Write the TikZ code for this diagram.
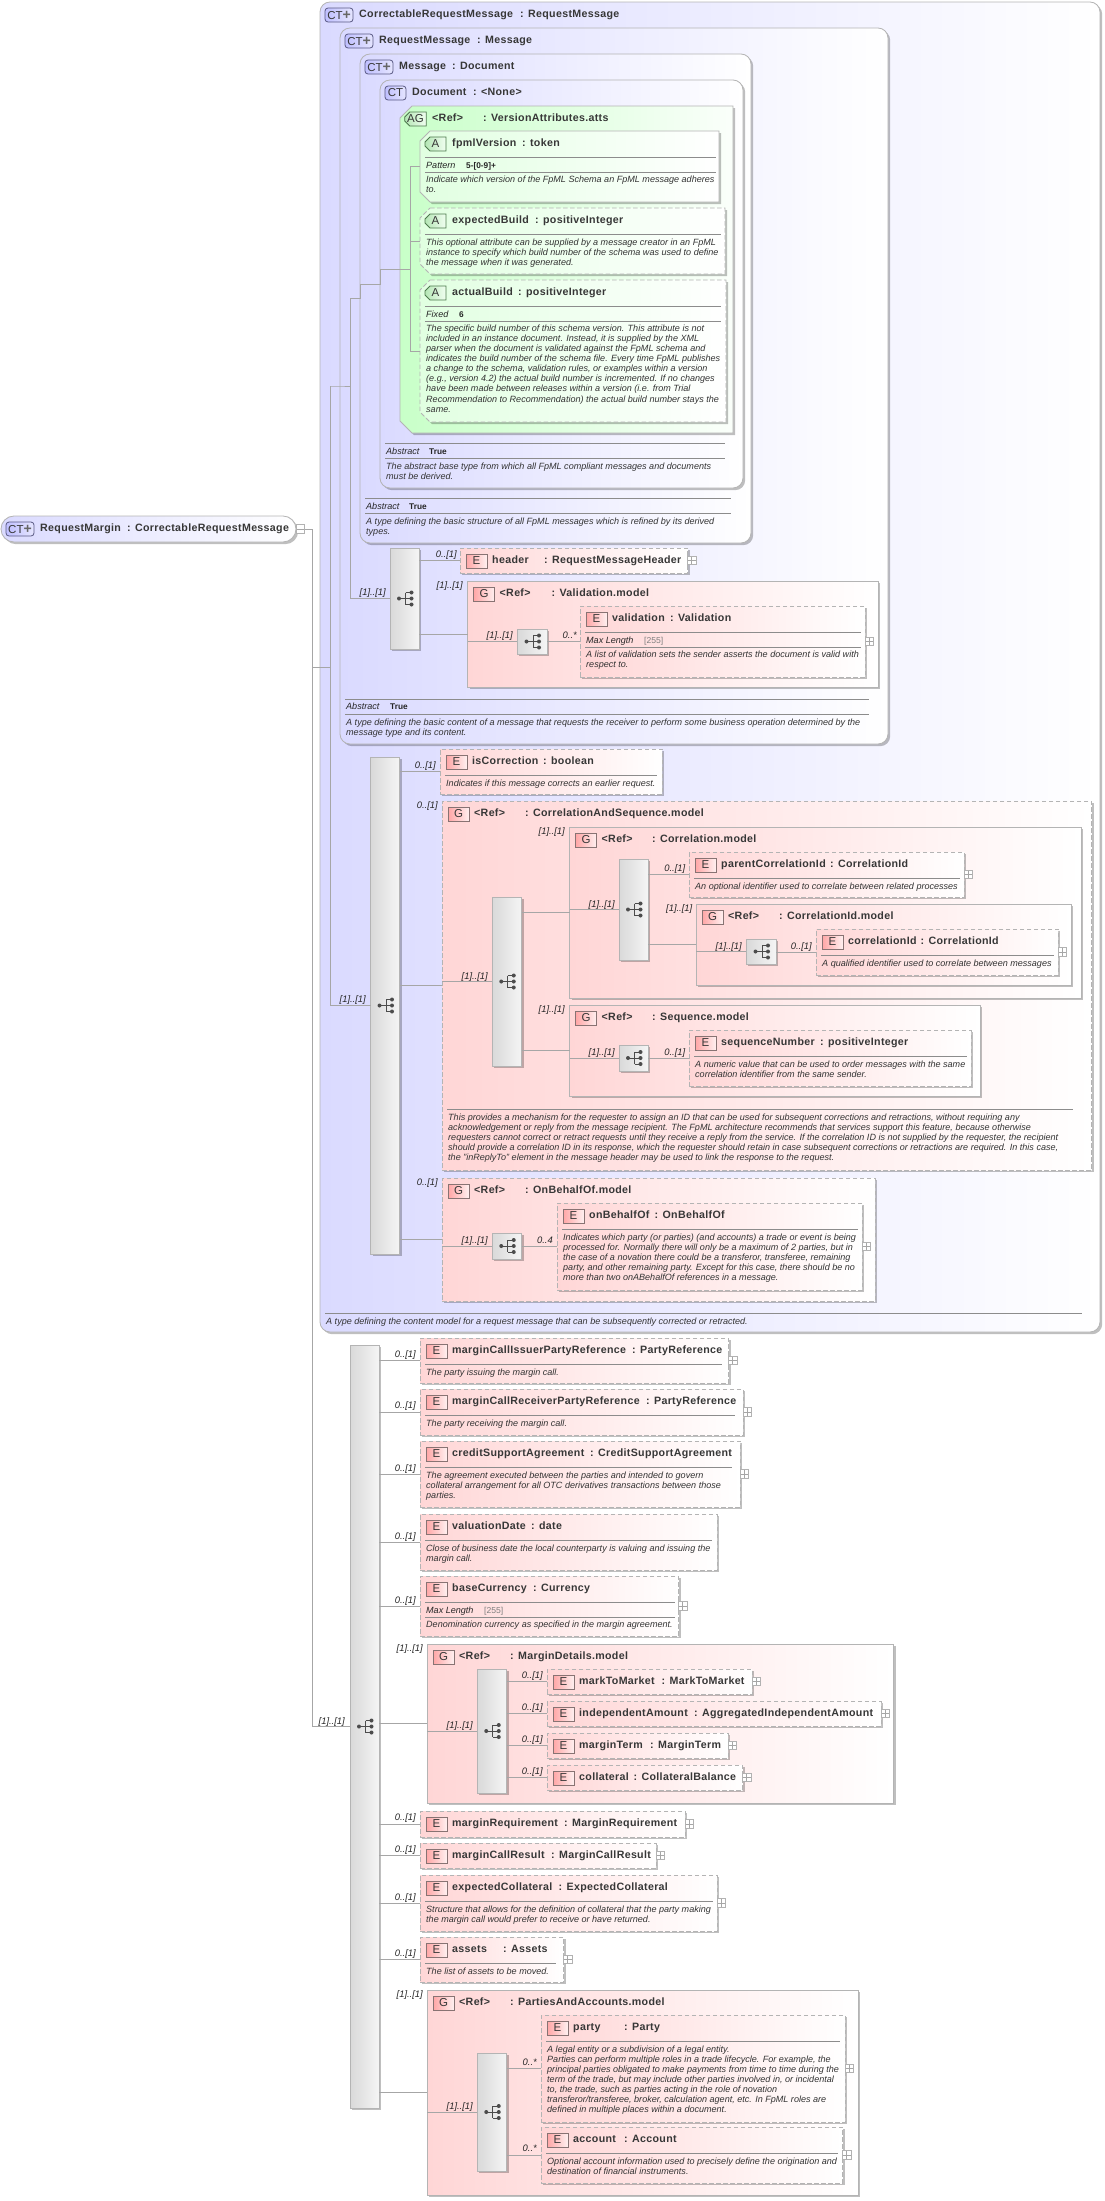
\documentclass[tikz,border=0pt]{standalone}
\usepackage{fontspec}
\setmainfont{Liberation Sans}
\newfontfamily\ttlfont[LetterSpace=3]{Liberation Sans}
\usetikzlibrary{positioning,shadows,shapes.misc}

\definecolor{ctblue}{RGB}{218,218,255}
\definecolor{elpink}{RGB}{255,214,214}
\definecolor{aggreen}{RGB}{200,255,200}
\definecolor{edge}{RGB}{180,180,180}
\definecolor{inkgray}{RGB}{55,55,55}

\tikzset{
  softshadow/.style={drop shadow={shadow xshift=2.2pt,shadow yshift=-2.2pt,fill=black,opacity=.25}},
  plainbox/.style={draw=edge,line width=.85pt,inner sep=0pt,outer sep=0pt,softshadow},
  ctbox/.style={plainbox,rounded corners=10pt,left color=ctblue,right color=white},
  rootbox/.style={ctbox,rounded corners=13pt},
  grpbox/.style={plainbox,left color=elpink,right color=white},
  elbox/.style={plainbox,left color=elpink,right color=white},
  opt/.style={dash pattern=on 4.5pt off 2.5pt},
  chamfer/.style={chamfered rectangle,chamfered rectangle corners={north west,south west},
    chamfered rectangle xsep=#1,chamfered rectangle ysep=#1},
  agbox/.style={plainbox,left color=aggreen,right color=white!92!aggreen},
  attbox/.style={plainbox,left color=aggreen!55,right color=white},
  chamanchor/.style={inner sep=0pt,outer sep=0pt},
  seqbar/.style={plainbox,left color=black!15,right color=white!96!black},
  iconbase/.style={draw=black!60,line width=.8pt,inner sep=0pt,outer sep=0pt,
    minimum width=21pt,minimum height=14pt,text=inkgray,font=\fontsize{11.5}{12}\selectfont},
  icel/.style={iconbase,draw=red!15!black!55,left color=red!35,right color=red!6},
  icct/.style={iconbase,draw=blue!25!black!65,rounded corners=3pt,left color=blue!25,right color=blue!10},
  icctp/.style={icct,minimum width=28pt},
  icat/.style={iconbase,draw=green!25!black!70,chamfer=2.5pt,left color=aggreen!90!black,right color=aggreen!25},
  ttl/.style={anchor=base west,inner sep=0pt,text=inkgray,font=\fontsize{10.65}{12}\ttlfont\bfseries},
  dockey/.style={anchor=base west,inner sep=0pt,text=black!85,font=\fontsize{9.05}{10}\selectfont\itshape},
  kvbold/.style={anchor=base west,inner sep=0pt,text=black!85,font=\fontsize{8.3}{10}\selectfont\bfseries},
  kvgray/.style={anchor=base west,inner sep=0pt,text=black!50,font=\fontsize{8.6}{10}\selectfont},
  doctext/.style={anchor=north west,inner sep=0pt,align=left,text=black!80,
    font=\fontsize{9.05}{10.12}\selectfont\itshape},
  cardtext/.style={anchor=base east,inner sep=0pt,text=black!85,font=\fontsize{9.4}{10}\selectfont\itshape},
  sepline/.style={draw=black!45,line width=.7pt},
  conn/.style={draw=black!35,line width=.8pt},
  expbase/.style={draw=black!30,line width=.6pt,fill=white,inner sep=0pt,outer sep=0pt,minimum size=8.5pt},
  expplus/.style={expbase,path picture={\draw[black!35,line width=.6pt]
    (path picture bounding box.west) -- (path picture bounding box.east)
    (path picture bounding box.north) -- (path picture bounding box.south);}},
  expminus/.style={expbase,path picture={\draw[black!35,line width=.6pt]
    (path picture bounding box.west) -- (path picture bounding box.east);}},
  treeicon/.pic={
    \draw[black!70,line width=.8pt] (-5.5,0) -- (1,0) (1,-6) -- (1,6) (1,-6) -- (7,-6) (1,0) -- (7,0) (1,6) -- (7,6);
    \fill[black!70] (-5.5,0) circle (2) (7,-6) circle (2) (7,0) circle (2) (7,6) circle (2);
  }
}

\newcommand{\boxnode}[6]{%
  \coordinate (#2-o) at (#3,#4);
  \coordinate (#2-r) at (#5,#4);
  \node[#1,minimum width={(#5-#3)*1pt},minimum height={(#6-#4)*1pt}] (#2) at ({(#3+#5)/2},{(#4+#6)/2}) {};
}
\newcommand{\chambox}[7]{%
  \path[#1] ({#3+#7},#4) -- (#5,#4) -- (#5,#6) -- ({#3+#7},#6) -- (#3,{#6-#7}) -- (#3,{#4+#7}) -- cycle;
  \boxnode{chamanchor}{#2}{#3}{#4}{#5}{#6}
}
\newcommand{\head}[7][16.5]{%
  \node[#3] (#2-i) at ([shift={(#1,13)}]#2-o) {#4};
  \node[ttl] (#2-a) at ([shift={(32,15)}]#2-o) {#5};
  \node[ttl] (#2-b) at ([shift={(#6,15)}]#2-o) {#7};
}
\newcommand{\cthead}[4]{%
  \node[icctp] (#1-i) at ([shift={(19,13)}]#1-o) {CT\textcolor{black!60}{\fontsize{14}{12}\selectfont\bfseries +}};
  \node[ttl] (#1-a) at ([shift={(39,15)}]#1-o) {#2};
  \node[ttl] (#1-b) at ([shift={(#3,15)}]#1-o) {#4};
}
\newcommand{\sepl}[3]{\draw[sepline] ([shift={(5,#2)}]#1-o) -- ([shift={(-#3,#2)}]#1-r);}
\newcommand{\docs}[3][34]{\node[doctext] (#2-d) at ([shift={(6,#1-4.5)}]#2-o) {\rule{0pt}{7.5pt}#3};}
\newcommand{\kv}[6][34]{%
  \node[dockey] (#2-k) at ([shift={(6,#1+3)}]#2-o) {#3};
  \node[#5] (#2-v) at ([shift={(#4,#1+3)}]#2-o) {#6};
}
\newcommand{\card}[4]{\node[cardtext] (#1) at (#2,#3+3) {#4};}
\newcommand{\seqnode}[5]{%
  \boxnode{seqbar}{#1}{#2}{#3}{#4}{#5}
  \pic at (#1.center) {treeicon};
}
\newcommand{\expander}[1]{\node[expplus,right=0pt of #1] (#1-x) {};}

\begin{document}
\begin{tikzpicture}[x=1pt,y=-1pt]
  \useasboundingbox (0,0) rectangle (1105,2201);

  % Root element
  \boxnode{rootbox}{rm}{1}{516}{296}{542}
  \cthead{rm}{RequestMargin}{126}{: CorrectableRequestMessage}
  \node[expminus,right=0pt of rm] (rm-x) {};

  % Type hierarchy
  \boxnode{ctbox}{crm}{320}{2}{1100}{1332}
  \cthead{crm}{CorrectableRequestMessage}{200}{: RequestMessage}
  \boxnode{ctbox}{rqm}{340}{28}{888}{744}
  \cthead{rqm}{RequestMessage}{137}{: Message}
  \boxnode{ctbox}{msg}{360}{54}{751}{543}
  \cthead{msg}{Message}{92}{: Document}
  \boxnode{ctbox}{dcm}{380}{80}{743}{488}
  \head[15.5]{dcm}{icct}{CT}{Document}{93}{: <None>}

  % Attributes
  \chambox{agbox}{ver}{400}{106}{733}{433}{12}
  \head[15.5]{ver}{icat}{AG}{<Ref>}{83}{: VersionAttributes.atts}
  \chambox{attbox}{fpml}{420}{131}{719}{202}{10}
  \head[15.5]{fpml}{icat}{A}{fpmlVersion}{102}{: token}
  \sepl{fpml}{26}{3}
  \kv{fpml}{Pattern}{46}{kvbold}{5-[0-9]+}
  \sepl{fpml}{41}{3}
  \docs[48]{fpml}{Indicate which version of the FpML Schema an FpML message adheres\\to.}
  \chambox{attbox,opt}{exb}{420}{208}{725}{274}{10}
  \head[15.5]{exb}{icat}{A}{expectedBuild}{115}{: positiveInteger}
  \sepl{exb}{26}{4}
  \docs{exb}{This optional attribute can be supplied by a message creator in an FpML\\instance to specify which build number of the schema was used to define\\the message when it was generated.}
  \chambox{attbox,opt}{acb}{420}{280}{726}{422}{10}
  \head[15.5]{acb}{icat}{A}{actualBuild}{98}{: positiveInteger}
  \sepl{acb}{26}{5}
  \kv{acb}{Fixed}{39}{kvbold}{6}
  \sepl{acb}{41}{5}
  \docs[48]{acb}{The specific build number of this schema version. This attribute is not\\included in an instance document. Instead, it is supplied by the XML\\parser when the document is validated against the FpML schema and\\indicates the build number of the schema file. Every time FpML publishes\\a change to the schema, validation rules, or examples within a version\\(e.g., version 4.2) the actual build number is incremented. If no changes\\have been made between releases within a version (i.e. from Trial\\Recommendation to Recommendation) the actual build number stays the\\same.}

  % Abstract rows
  \sepl{dcm}{363}{18}
  \kv[371]{dcm}{Abstract}{49}{kvbold}{True}
  \sepl{dcm}{378}{18}
  \docs[386]{dcm}{The abstract base type from which all FpML compliant messages and documents\\must be derived.}
  \sepl{msg}{444}{20}
  \kv[452]{msg}{Abstract}{49}{kvbold}{True}
  \sepl{msg}{459}{20}
  \docs[467]{msg}{A type defining the basic structure of all FpML messages which is refined by its derived\\types.}
  \sepl{rqm}{671}{19}
  \kv[678]{rqm}{Abstract}{50}{kvbold}{True}
  \sepl{rqm}{686}{19}
  \docs[694]{rqm}{A type defining the basic content of a message that requests the receiver to perform some business operation determined by the\\message type and its content.}

  % Message content
  \seqnode{seqA}{390}{548}{419}{649}
  \boxnode{elbox,opt}{hdr}{460}{548}{687.5}{573}
  \head{hdr}{icel}{E}{header}{84}{: RequestMessageHeader}
  \expander{hdr}
  \boxnode{grpbox}{vmd}{467.5}{581}{878}{687}
  \head{vmd}{icel}{G}{<Ref>}{84}{: Validation.model}
  \seqnode{seqV}{517}{629}{547}{654}
  \boxnode{elbox,opt}{vld}{580}{606}{865}{677}
  \head{vld}{icel}{E}{validation}{90}{: Validation}
  \sepl{vld}{26}{4}
  \kv{vld}{Max Length}{64}{kvgray}{[255]}
  \sepl{vld}{41}{4}
  \docs[48]{vld}{A list of validation sets the sender asserts the document is valid with\\respect to.}
  \expander{vld}

  % Correctable content
  \seqnode{seqB}{370.5}{757}{399.5}{1254}
  \boxnode{elbox,opt}{isc}{440}{749}{662}{794}
  \head{isc}{icel}{E}{isCorrection}{103}{: boolean}
  \sepl{isc}{26}{5}
  \docs{isc}{Indicates if this message corrects an earlier request.}

  \boxnode{grpbox,opt}{cas}{442}{801}{1091.5}{1170}
  \head{cas}{icel}{G}{<Ref>}{83}{: CorrelationAndSequence.model}
  \seqnode{seqC}{492}{897}{521.5}{1066}
  \boxnode{grpbox}{cmd}{569.5}{827}{1081}{998}
  \head{cmd}{icel}{G}{<Ref>}{82.5}{: Correlation.model}
  \seqnode{seqD}{619}{859}{648}{960}
  \boxnode{elbox,opt}{par}{689}{852}{964}{897}
  \head{par}{icel}{E}{parentCorrelationId}{141}{: CorrelationId}
  \sepl{par}{26}{4}
  \docs{par}{An optional identifier used to correlate between related processes}
  \expander{par}
  \boxnode{grpbox}{cim}{696}{904}{1071}{985}
  \head{cim}{icel}{G}{<Ref>}{83}{: CorrelationId.model}
  \seqnode{seqE}{746}{939}{776}{964}
  \boxnode{elbox,opt}{cid}{816}{929}{1058}{975}
  \head{cid}{icel}{E}{correlationId}{104.5}{: CorrelationId}
  \sepl{cid}{26}{4}
  \docs{cid}{A qualified identifier used to correlate between messages}
  \expander{cid}
  \boxnode{grpbox}{smd}{569.5}{1005}{980}{1096}
  \head{smd}{icel}{G}{<Ref>}{82.5}{: Sequence.model}
  \seqnode{seqF}{619}{1045}{648}{1071}
  \boxnode{elbox,opt}{sqn}{689}{1030}{971}{1086}
  \head{sqn}{icel}{E}{sequenceNumber}{131}{: positiveInteger}
  \sepl{sqn}{26}{4}
  \docs{sqn}{A numeric value that can be used to order messages with the same\\correlation identifier from the same sender.}
  \sepl{cas}{308}{19}
  \docs[316]{cas}{This provides a mechanism for the requester to assign an ID that can be used for subsequent corrections and retractions, without requiring any\\acknowledgement or reply from the message recipient. The FpML architecture recommends that services support this feature, because otherwise\\requesters cannot correct or retract requests until they receive a reply from the service. If the correlation ID is not supplied by the requester, the recipient\\should provide a correlation ID in its response, which the requester should retain in case subsequent corrections or retractions are required. In this case,\\the "inReplyTo" element in the message header may be used to link the response to the request.}

  \boxnode{grpbox,opt}{obm}{442}{1178}{875}{1301}
  \head{obm}{icel}{G}{<Ref>}{83}{: OnBehalfOf.model}
  \seqnode{seqG}{492}{1233}{521.5}{1259}
  \boxnode{elbox,opt}{obo}{557}{1203}{862}{1290}
  \head{obo}{icel}{E}{onBehalfOf}{97.5}{: OnBehalfOf}
  \sepl{obo}{26}{4}
  \docs{obo}{Indicates which party (or parties) (and accounts) a trade or event is being\\processed for. Normally there will only be a maximum of 2 parties, but in\\the case of a novation there could be a transferor, transferee, remaining\\party, and other remaining party. Except for this case, there should be no\\more than two onABehalfOf references in a message.}
  \expander{obo}
  \sepl{crm}{1311}{18}
  \docs[1319]{crm}{A type defining the content model for a request message that can be subsequently corrected or retracted.}

  % Margin content
  \seqnode{seqM}{350}{1345}{379}{2108}
  \boxnode{elbox,opt}{mci}{420}{1338}{728.5}{1383}
  \head{mci}{icel}{E}{marginCallIssuerPartyReference}{212}{: PartyReference}
  \sepl{mci}{26}{7}
  \docs{mci}{The party issuing the margin call.}
  \expander{mci}
  \boxnode{elbox,opt}{mcr}{420}{1389}{743}{1435}
  \head{mcr}{icel}{E}{marginCallReceiverPartyReference}{226}{: PartyReference}
  \sepl{mcr}{26}{8}
  \docs{mcr}{The party receiving the margin call.}
  \expander{mcr}
  \boxnode{elbox,opt}{csa}{420}{1441}{740}{1507}
  \head{csa}{icel}{E}{creditSupportAgreement}{170}{: CreditSupportAgreement}
  \sepl{csa}{26}{8}
  \docs{csa}{The agreement executed between the parties and intended to govern\\collateral arrangement for all OTC derivatives transactions between those\\parties.}
  \expander{csa}
  \boxnode{elbox,opt}{vdt}{420}{1514}{717}{1570}
  \head{vdt}{icel}{E}{valuationDate}{111}{: date}
  \sepl{vdt}{26}{5}
  \docs{vdt}{Close of business date the local counterparty is valuing and issuing the\\margin call.}
  \boxnode{elbox,opt}{bcy}{420}{1576}{678.5}{1636}
  \head{bcy}{icel}{E}{baseCurrency}{113}{: Currency}
  \sepl{bcy}{26}{4}
  \kv{bcy}{Max Length}{64}{kvgray}{[255]}
  \sepl{bcy}{41}{4}
  \docs[48]{bcy}{Denomination currency as specified in the margin agreement.}
  \expander{bcy}

  \boxnode{grpbox}{mdm}{427}{1644}{893.5}{1803}
  \head{mdm}{icel}{G}{<Ref>}{83}{: MarginDetails.model}
  \seqnode{seqH}{477}{1669}{506.5}{1793}
  \boxnode{elbox,opt}{mtm}{547}{1669}{752}{1694}
  \head{mtm}{icel}{E}{markToMarket}{114.5}{: MarkToMarket}
  \expander{mtm}
  \boxnode{elbox,opt}{ind}{547}{1701}{881}{1726}
  \head{ind}{icel}{E}{independentAmount}{147}{: AggregatedIndependentAmount}
  \expander{ind}
  \boxnode{elbox,opt}{mtr}{547}{1733}{728}{1758}
  \head{mtr}{icel}{E}{marginTerm}{103}{: MarginTerm}
  \expander{mtr}
  \boxnode{elbox,opt}{col}{547}{1765}{742.5}{1790}
  \head{col}{icel}{E}{collateral}{86.5}{: CollateralBalance}
  \expander{col}

  \boxnode{elbox,opt}{mrq}{420}{1811}{685}{1837}
  \head{mrq}{icel}{E}{marginRequirement}{144}{: MarginRequirement}
  \expander{mrq}
  \boxnode{elbox,opt}{mrs}{420}{1843}{656}{1868}
  \head{mrs}{icel}{E}{marginCallResult}{131}{: MarginCallResult}
  \expander{mrs}
  \boxnode{elbox,opt}{exc}{420}{1875}{717}{1931}
  \head{exc}{icel}{E}{expectedCollateral}{138.5}{: ExpectedCollateral}
  \sepl{exc}{26}{4.5}
  \docs{exc}{Structure that allows for the definition of collateral that the party making\\the margin call would prefer to receive or have returned.}
  \expander{exc}
  \boxnode{elbox,opt}{ast}{420}{1937}{563.5}{1982}
  \head{ast}{icel}{E}{assets}{83}{: Assets}
  \sepl{ast}{26}{8}
  \docs{ast}{The list of assets to be moved.}
  \expander{ast}

  \boxnode{grpbox}{pam}{427}{1990}{858}{2195}
  \head{pam}{icel}{G}{<Ref>}{83}{: PartiesAndAccounts.model}
  \seqnode{seqI}{477}{2053}{506.5}{2171}
  \boxnode{elbox,opt}{pty}{541}{2015}{845}{2122}
  \head{pty}{icel}{E}{party}{83}{: Party}
  \sepl{pty}{26}{5}
  \docs{pty}{A legal entity or a subdivision of a legal entity.\\Parties can perform multiple roles in a trade lifecycle. For example, the\\principal parties obligated to make payments from time to time during the\\term of the trade, but may include other parties involved in, or incidental\\to, the trade, such as parties acting in the role of novation\\transferor/transferee, broker, calculation agent, etc. In FpML roles are\\defined in multiple places within a document.}
  \expander{pty}
  \boxnode{elbox,opt}{acc}{541}{2127}{842.5}{2183}
  \head{acc}{icel}{E}{account}{83}{: Account}
  \sepl{acc}{26}{5}
  \docs{acc}{Optional account information used to precisely define the origination and\\destination of financial instruments.}
  \expander{acc}

  % Connectors
  \coordinate (trunk) at (312,529);
  \coordinate (busA) at (330,386);
  \coordinate (busB) at (350,298);
  \coordinate (busC) at (410,269);
  \draw[conn] (rm-x.east) -- (trunk |- rm-x.east) -- (trunk |- seqM.west) -- (seqM.west);
  \draw[conn] (trunk |- crm.west) -- (busA |- crm.west);
  \draw[conn] (busA |- rqm.west) -- (busA |- seqB.west) -- (seqB.west);
  \draw[conn] (busA |- rqm.west) -- (rqm.west) -- (busB |- rqm.west);
  \draw[conn] (busB |- msg.west) -- (busB |- seqA.west) -- (seqA.west);
  \draw[conn] (busB |- msg.west) -- (msg.west) -- (msg.west |- dcm.west) -- (dcm.west)
    -- (dcm.west |- ver.west) -- (busC |- ver.west);
  \draw[conn] (busC |- fpml.west) -- (busC |- acb.west);
  \foreach \n in {fpml,exb,acb}
    {\draw[conn] (busC |- \n.west) -- (\n.west);}
  \foreach \s/\n in {seqA/hdr,seqA/vmd,seqV/vld,seqB/isc,seqB/cas,seqB/obm,seqC/cmd,seqC/smd,seqD/par,seqD/cim,
      seqE/cid,seqF/sqn,seqG/obo,seqM/mci,seqM/mcr,seqM/csa,seqM/vdt,seqM/bcy,seqM/mdm,seqM/mrq,seqM/mrs,seqM/exc,
      seqM/ast,seqM/pam,seqH/mtm,seqH/ind,seqH/mtr,seqH/col,seqI/pty,seqI/acc}
    {\draw[conn] (\s.east |- \n.west) -- (\n.west);}
  \foreach \g/\s in {vmd/seqV,cas/seqC,cmd/seqD,cim/seqE,smd/seqF,obm/seqG,mdm/seqH,pam/seqI}
    {\draw[conn] (\g.west |- \s.west) -- (\s.west);}

  % Cardinalities
  \card{cseqA}{386}{592}{[1]..[1]}
  \card{chdr}{457}{554}{0..[1]}
  \card{cvmd}{463}{585}{[1]..[1]}
  \card{cseqV}{513}{635}{[1]..[1]}
  \card{cvld}{577}{635}{0..*}
  \card{cseqB}{366}{999}{[1]..[1]}
  \card{cisc}{436}{765}{0..[1]}
  \card{ccas}{438}{805}{0..[1]}
  \card{cseqC}{488}{976}{[1]..[1]}
  \card{ccmd}{565}{831}{[1]..[1]}
  \card{cseqD}{615}{904}{[1]..[1]}
  \card{cpar}{685.5}{868}{0..[1]}
  \card{ccim}{692.5}{908}{[1]..[1]}
  \card{cseqE}{742}{946}{[1]..[1]}
  \card{ccid}{812}{946}{0..[1]}
  \card{csmd}{565}{1009}{[1]..[1]}
  \card{cseqF}{615}{1052}{[1]..[1]}
  \card{csqn}{685.5}{1052}{0..[1]}
  \card{cobm}{438}{1182}{0..[1]}
  \card{cseqG}{488}{1240}{[1]..[1]}
  \card{cobo}{553}{1240}{0..4}
  \card{cseqM}{345}{1721}{[1]..[1]}
  \foreach \n/\y in {mci/1354,mcr/1405,csa/1468,vdt/1536,bcy/1600,mrq/1817,mrs/1849,exc/1897,ast/1953}
    {\card{c\n}{416}{\y}{0..[1]}}
  \foreach \n/\y in {mtm/1675,ind/1707,mtr/1739,col/1771}
    {\card{c\n}{543}{\y}{0..[1]}}
  \card{cmdm}{423}{1648}{[1]..[1]}
  \card{cseqH}{473}{1725}{[1]..[1]}
  \card{cpam}{423}{1994}{[1]..[1]}
  \card{cseqI}{473}{2106}{[1]..[1]}
  \card{cpty}{537}{2062}{0..*}
  \card{cacc}{537}{2148}{0..*}
\end{tikzpicture}
\end{document}
